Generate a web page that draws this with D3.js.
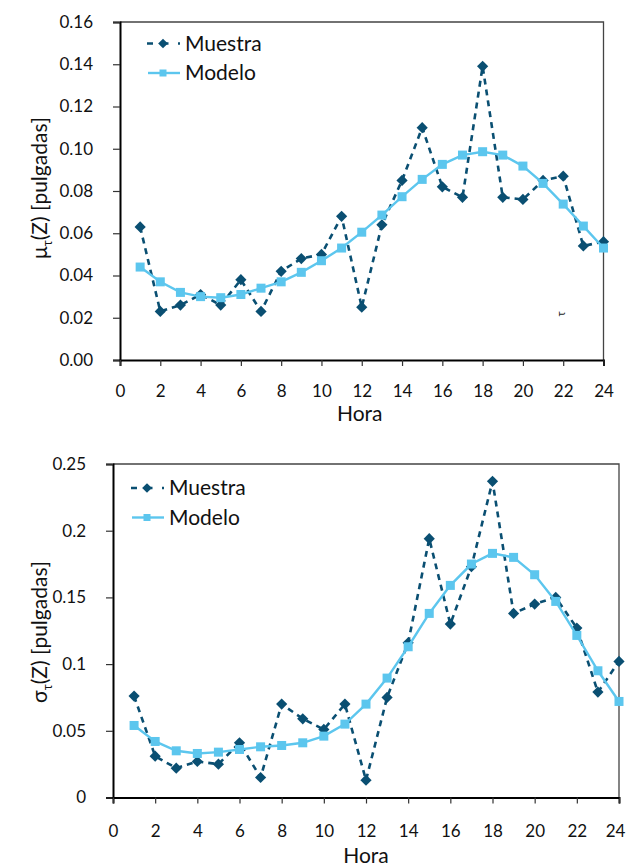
<!DOCTYPE html>
<html>
<head>
<meta charset="utf-8">
<script src="https://cdn.jsdelivr.net/npm/d3@7"></script>
<style>
  body { margin: 0; background: #fff; }
  svg { font-family: Lato, "Open Sans", sans-serif; }
</style>
</head>
<body>
<svg id="chart" width="626" height="865"></svg>
<script>
// hours 1..24
var hours = d3.range(1, 25);

// mu_tau(Z), top panel
var muMuestra = [0.063, 0.023, 0.026, 0.031, 0.026, 0.038, 0.023, 0.042, 0.048, 0.050, 0.068, 0.025,
                 0.064, 0.085, 0.110, 0.082, 0.077, 0.139, 0.077, 0.076, 0.085, 0.087, 0.054, 0.056];
var muModelo = [0.044, 0.037, 0.032, 0.030, 0.0295, 0.031, 0.034, 0.037, 0.0415, 0.047, 0.053, 0.0605,
                0.0686, 0.0773, 0.0855, 0.0926, 0.097, 0.0986, 0.097, 0.0918, 0.0836, 0.0738, 0.0634, 0.053];

// sigma_tau(Z), bottom panel
var sigmaMuestra = [0.076, 0.031, 0.022, 0.027, 0.025, 0.041, 0.015, 0.070, 0.059, 0.051, 0.070, 0.013,
                    0.075, 0.116, 0.194, 0.130, 0.173, 0.237, 0.138, 0.145, 0.150, 0.127, 0.079, 0.102];
var sigmaModelo = [0.054, 0.042, 0.035, 0.033, 0.034, 0.036, 0.038, 0.039, 0.041, 0.046, 0.055, 0.070,
                   0.0895, 0.113, 0.138, 0.159, 0.175, 0.183, 0.180, 0.167, 0.147, 0.1215, 0.095, 0.072];

var xTicks = d3.range(0, 25, 2);
var muTicks = [0, 0.02, 0.04, 0.06, 0.08, 0.10, 0.12, 0.14, 0.16];
var sigmaTicks = [0, 0.05, 0.1, 0.15, 0.2, 0.25];

var darkColor = "#0a4f72";
var lightColor = "#5cc6ee";

var svg = d3.select("#chart");

function drawPanel(opt) {
  var x = d3.scaleLinear().domain([0, 24]).range([opt.left, opt.right]);
  var y = d3.scaleLinear().domain([0, opt.yMax]).range([opt.bottom, opt.top]);
  var g = svg.append("g");

  // frame top + right
  g.append("path")
    .attr("d", "M" + opt.left + "," + opt.top + "H" + opt.right + "V" + opt.bottom)
    .attr("fill", "none").attr("stroke", "#444").attr("stroke-width", 1.3);

  var yAxis = g.append("g")
    .attr("transform", "translate(" + opt.left + ",0)")
    .call(d3.axisLeft(y).tickValues(opt.yTicks).tickFormat(opt.yFormat).tickSize(7).tickPadding(opt.yPad));
  var xAxis = g.append("g")
    .attr("transform", "translate(0," + opt.bottom + ")")
    .call(d3.axisBottom(x).tickValues(xTicks).tickFormat(d3.format("d")).tickSize(6).tickPadding(opt.xPad));

  [yAxis, xAxis].forEach(function(a) {
    a.select(".domain").attr("stroke", "#000").attr("stroke-width", 2);
    a.selectAll(".tick line").attr("stroke", "#333").attr("stroke-width", 1.2);
    a.selectAll("text").attr("font-size", 17).attr("fill", "#111").attr("font-family", "Lato, sans-serif");
  });
  // keep the last hour label inside the window
  xAxis.selectAll(".tick text").filter(function(d) { return d === 24; })
    .attr("dx", opt.lastDx);

  // axis titles
  g.append("text")
    .attr("x", (opt.left + opt.right) / 2 + opt.titleShift)
    .attr("y", opt.bottom + opt.horaDy)
    .attr("text-anchor", "middle")
    .attr("font-size", 21).attr("fill", "#111")
    .text("Hora");

  var yt = g.append("text")
    .attr("transform", "translate(" + opt.yTitleX + "," + opt.yTitleY + ") rotate(-90)")
    .attr("text-anchor", "middle")
    .attr("font-size", 21).attr("fill", "#111");
  yt.append("tspan").text(opt.symbol);
  yt.append("tspan").attr("dy", 5).attr("font-size", 13).text("τ");
  yt.append("tspan").attr("dy", -5).text("(Z) [pulgadas]");

  var line = d3.line().x(function(d, i) { return x(hours[i]); }).y(function(d) { return y(d); });

  // Muestra
  g.append("path").datum(opt.muestra)
    .attr("d", line).attr("fill", "none")
    .attr("stroke", darkColor).attr("stroke-width", 2.6).attr("stroke-dasharray", "6,5");
  g.selectAll(".diamond").data(opt.muestra).enter().append("path")
    .attr("class", "diamond")
    .attr("transform", function(d, i) { return "translate(" + x(hours[i]) + "," + y(d) + ")"; })
    .attr("d", d3.symbol().type(d3.symbolDiamond2).size(80))
    .attr("fill", darkColor);

  // Modelo
  g.append("path").datum(opt.modelo)
    .attr("d", line).attr("fill", "none")
    .attr("stroke", lightColor).attr("stroke-width", 2.4);
  g.selectAll(".sq").data(opt.modelo).enter().append("rect")
    .attr("class", "sq")
    .attr("x", function(d, i) { return x(hours[i]) - 4.5; })
    .attr("y", function(d) { return y(d) - 4.5; })
    .attr("width", 9).attr("height", 9)
    .attr("fill", lightColor);

  // legend
  var lx = opt.legendX, ly = opt.legendY;
  g.append("line").attr("x1", lx).attr("x2", lx + 33).attr("y1", ly).attr("y2", ly)
    .attr("stroke", darkColor).attr("stroke-width", 2.6).attr("stroke-dasharray", "6,9.5");
  g.append("path").attr("transform", "translate(" + (lx + 16) + "," + ly + ")")
    .attr("d", d3.symbol().type(d3.symbolDiamond2).size(60)).attr("fill", darkColor);
  g.append("text").attr("x", lx + 38).attr("y", ly + 7).attr("font-size", 21).attr("fill", "#111").text("Muestra");

  var ly2 = ly + 29.5;
  g.append("line").attr("x1", lx + 1).attr("x2", lx + 33).attr("y1", ly2).attr("y2", ly2)
    .attr("stroke", lightColor).attr("stroke-width", 2.4);
  g.append("rect").attr("x", lx + 12.5).attr("y", ly2 - 3.5).attr("width", 7).attr("height", 7)
    .attr("fill", lightColor);
  g.append("text").attr("x", lx + 38).attr("y", ly2 + 7).attr("font-size", 21).attr("fill", "#111").text("Modelo");

  return g;
}

var topPanel = drawPanel({
  left: 120, right: 603.5, top: 22, bottom: 360, yMax: 0.16,
  yTicks: muTicks, yFormat: d3.format(".2f"), yPad: 20, xPad: 19, lastDx: 0,
  muestra: muMuestra, modelo: muModelo,
  symbol: "μ", yTitleX: 47, yTitleY: 188, titleShift: -2, horaDy: 61,
  legendX: 147, legendY: 43.5
});
// stray glyph in the original
topPanel.append("text")
  .attr("transform", "translate(561,314) rotate(-90)")
  .attr("text-anchor", "middle").attr("dy", 4)
  .attr("font-size", 11).attr("fill", "#222").text("τ");

drawPanel({
  left: 113, right: 619, top: 464, bottom: 797.5, yMax: 0.25,
  yTicks: sigmaTicks, yFormat: function(d) { return d === 0 ? "0" : String(d); }, yPad: 20, xPad: 21, lastDx: -4,
  muestra: sigmaMuestra, modelo: sigmaModelo,
  symbol: "σ", yTitleX: 47, yTitleY: 632, titleShift: 0, horaDy: 65,
  legendX: 131, legendY: 488
});
</script>
</body>
</html>
